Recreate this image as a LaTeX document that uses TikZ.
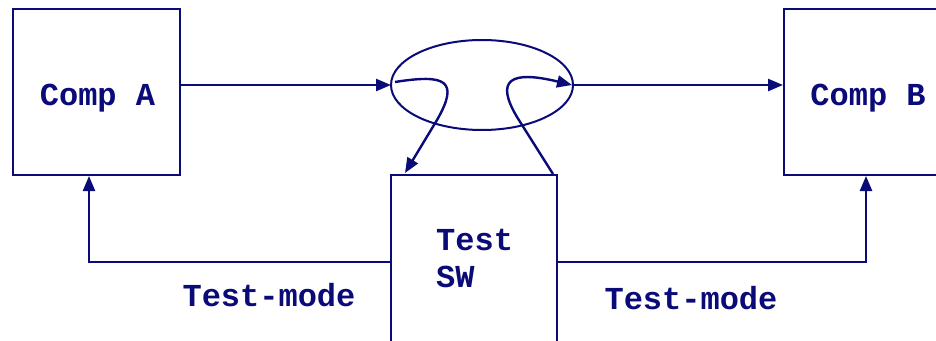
\documentclass[tikz,border=0pt]{standalone}
\usepackage{fontspec}
\setmonofont{Liberation Mono}
\usetikzlibrary{arrows.meta}
\definecolor{navy}{RGB}{10,10,120}
\tikzset{
  box/.style={draw=navy, line width=2pt, rectangle, inner sep=0pt},
  conn/.style={draw=navy, line width=2.4pt},
  tip/.style={-{Triangle[length=15pt,width=12pt]}},
  lbl/.style={text=navy, font=\fontsize{32}{37}\selectfont\ttfamily\bfseries, inner sep=0pt},
}
\begin{document}
\begin{tikzpicture}[x=1pt,y=-1pt]
\clip (0,0) rectangle (936,340);
\fill[white] (0,0) rectangle (936,340);
\node[box, minimum width=167pt, minimum height=166pt] (A) at (96.5,92) {};
\node[box, minimum width=168pt, minimum height=166pt] (B) at (868,92) {};
\node[box, minimum width=166pt, minimum height=175pt] (S) at (474,262.5) {};
\draw[navy, line width=2pt] (482,85) ellipse [x radius=91pt, y radius=45pt];
\coordinate (EL) at (391,85);
\coordinate (ER) at (573,85);
\node[lbl, anchor=base] (tA) at (97.5,105) {Comp A};
\node[lbl, anchor=base] (tB) at (868,105) {Comp B};
\node[lbl, anchor=base west] (tS1) at (436,250) {Test};
\node[lbl, anchor=base west] (tS2) at (436,287) {SW};
\node[lbl, anchor=base] (m1) at (269,306) {Test-mode};
\node[lbl, anchor=base] (m2) at (691,309) {Test-mode};
\draw[conn, tip] (A.east |- EL) -- (EL);
\draw[conn, tip] (ER) -- (B.west |- ER);
\coordinate (L0) at (395,82);
\coordinate (L1) at (437,120);
\coordinate (L2) at (405,173);
\draw[conn, tip] (L0) .. controls (445,74) and (460,80) .. (L1) -- (L2);
\coordinate (R0) at (553,174);
\coordinate (R1) at (517,117);
\coordinate (R2) at (572,85);
\draw[conn, tip] (R0) -- (R1) .. controls (495,80) and (510,70) .. (R2);
\coordinate (FA) at (89,262);
\coordinate (FB) at (866,262);
\draw[conn, tip] (S.west |- FA) -- (FA) -- (A.south -| FA);
\draw[conn, tip] (S.east |- FB) -- (FB) -- (B.south -| FB);
\end{tikzpicture}
\end{document}
